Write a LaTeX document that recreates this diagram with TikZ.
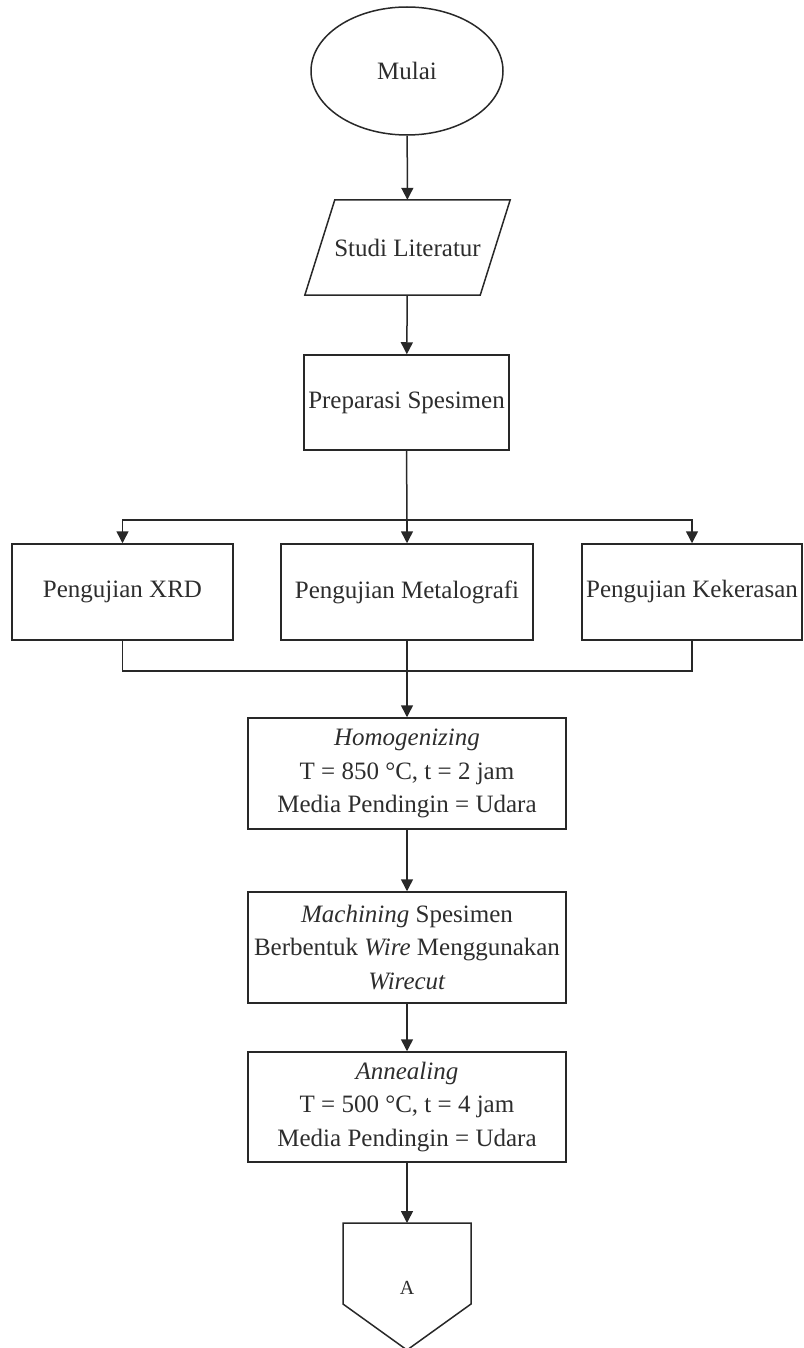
\documentclass[tikz,border=0pt]{standalone}
\usepackage{fontspec}
\setmainfont{Liberation Serif}
\usepackage{tikz}
\usetikzlibrary{arrows.meta,positioning,shapes.geometric}
\usepackage{xcolor}
\definecolor{lineclr}{RGB}{40,40,40}
\definecolor{textclr}{RGB}{45,45,45}

\tikzset{
  every node/.style={text=textclr,font=\fontsize{25}{33.5}\selectfont},
  prosesbox/.style={draw=lineclr,line width=1.5pt,rectangle,inner sep=0pt,align=center},
  startend/.style={draw=lineclr,line width=1.5pt,ellipse,inner sep=0pt,minimum width=192pt,minimum height=128pt},
  iobox/.style={rectangle,inner sep=0pt,minimum width=205pt,minimum height=95pt},
  arr/.style={draw=lineclr,line width=1.5pt,-{Triangle[length=12pt,width=12pt]}},
  ln/.style={draw=lineclr,line width=1.5pt}
}

\begin{document}
\begin{tikzpicture}[x=1pt,y=-1pt]
  \useasboundingbox (0,0) rectangle (803,1348);

  \node[startend] (mulai) at (407,71) {Mulai};
  \node[iobox] (studi) at (407.5,247.5) {Studi Literatur};
  \draw[ln] ([xshift=30pt]studi.north west) -- (studi.north east)
    -- ([xshift=-30pt]studi.south east) -- (studi.south west) -- cycle;
  \node[prosesbox,minimum width=205pt,minimum height=95pt] (prep) at (406.5,402.5) {Preparasi Spesimen};

  \node[prosesbox,minimum width=221pt,minimum height=96pt] (xrd) at (122.5,592) {Pengujian XRD};
  \node[prosesbox,minimum width=252pt,minimum height=96pt] (metal) at (407,592) {Pengujian Metalografi};
  \node[prosesbox,minimum width=220pt,minimum height=96pt] (keras) at (692,592) {Pengujian Kekerasan};

  \node[prosesbox,minimum width=318pt,minimum height=111pt] (homog) at (407,773.5)
    {\textit{Homogenizing}\\T = 850 °C, t = 2 jam\\Media Pendingin = Udara};
  \node[prosesbox,minimum width=318pt,minimum height=111pt] (mesin) at (407,947.5)
    {\textit{Machining} Spesimen\\Berbentuk \textit{Wire} Menggunakan\\\textit{Wirecut}};
  \node[prosesbox,minimum width=318pt,minimum height=110pt] (anneal) at (407,1107)
    {\textit{Annealing}\\T = 500 °C, t = 4 jam\\Media Pendingin = Udara};

  % penghubung ke halaman berikutnya
  \coordinate (offtop) at (407,1223);
  \draw[ln] (343,1223) -- (471,1223) -- (471,1304) -- (407,1350) -- (343,1304) -- cycle;
  \node[font=\fontsize{20}{24}\selectfont] (hubA) at (407,1288) {A};

  \draw[arr] (mulai) -- (studi);
  \draw[arr] (studi) -- (prep);

  \coordinate (cabang) at (407,520);
  \draw[ln] (prep.south) -- (cabang);
  \draw[arr] (cabang) -- (metal.north);
  \draw[arr] (cabang) -| (xrd.north);
  \draw[arr] (cabang) -| (keras.north);

  \coordinate (gabung) at (407,671);
  \draw[ln] (xrd.south) |- (gabung);
  \draw[ln] (keras.south) |- (gabung);
  \draw[arr] (metal.south) -- (homog.north);

  \draw[arr] (homog) -- (mesin);
  \draw[arr] (mesin) -- (anneal);
  \draw[arr] (anneal.south) -- (offtop);
\end{tikzpicture}
\end{document}
